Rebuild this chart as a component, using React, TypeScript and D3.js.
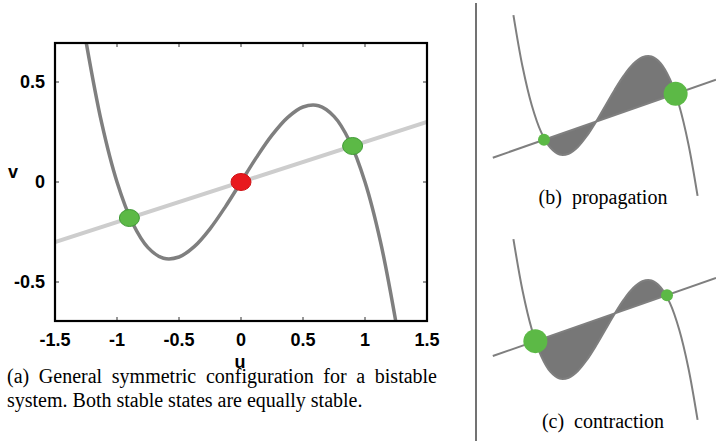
import React, { useEffect, useRef } from "react";
import * as d3 from "d3";

// nullcline samples (u, v)
const curveU = [-1.25, -1.125, -1, -0.875, -0.75, -0.625, -0.5, -0.375, -0.25, -0.125, 0, 0.125, 0.25, 0.375, 0.5, 0.625, 0.75, 0.875, 1, 1.125, 1.25];
const curveV = [0.703, 0.299, 0, -0.205, -0.328, -0.381, -0.375, -0.322, -0.234, -0.123, 0, 0.123, 0.234, 0.322, 0.375, 0.381, 0.328, 0.205, 0, -0.299, -0.703];

// straight line of the main plot
const lineU = [-1.5, 1.5];
const lineV = [-0.3, 0.3];

// fixed points of the main plot
const fixedU = [-0.9, 0, 0.9];
const fixedV = [-0.18, 0, 0.18];
const fixedStable = [true, false, true];

const xTicks = [-1.5, -1, -0.5, 0, 0.5, 1, 1.5];
const xTickLabels = ["-1.5", "-1", "-0.5", "0", "0.5", "1", "1.5"];
const yTicks = [-0.5, 0, 0.5];
const yTickLabels = ["-0.5", "0", "0.5"];

// side panels: shifted line and its crossings with the curve
const propLineV = [-0.4, 0.2];
const propCross = [-0.835, -0.125, 0.952];
const contrLineV = [-0.2, 0.4];
const contrCross = [-0.952, 0.125, 0.835];

const captionA1 = "(a)  General symmetric configuration for a bistable";
const captionA2 = "system. Both stable states are equally stable.";

const GREEN = "#5cb946";
const CURVE = "#7f7f7f";

const Panel = ({ dy, lv, cross, bigLeft, label }: any) => {
  const x = d3.scaleLinear().domain([-1.5, 1.5]).range([495, 716]);
  const y = d3.scaleLinear().domain([-0.8, 0.8]).range([208.4 + dy, 2.6 + dy]);
  const lineAt = d3.scaleLinear().domain(lineU).range(lv);
  const pts = curveU.map((u, i) => [u, curveV[i]]);
  const line = d3.line().x((d: any) => x(d[0])).y((d: any) => y(d[1])).curve(d3.curveCatmullRom.alpha(0.5));
  const uL = cross[0];
  const uR = cross[2];
  const areaPts = [[uL, lineAt(uL)], ...pts.filter((p) => p[0] > uL && p[0] < uR), [uR, lineAt(uR)]];
  const area = d3
    .area()
    .x((d: any) => x(d[0]))
    .y0((d: any) => y(lineAt(d[0])))
    .y1((d: any) => y(d[1]))
    .curve(d3.curveCatmullRom.alpha(0.5));
  return (
    <g>
      <path d={area(areaPts as any) || ""} fill="#777" />
      <line x1={x(-1.53)} y1={y(lineAt(-1.53))} x2={x(1.5)} y2={y(lineAt(1.5))} stroke={CURVE} strokeWidth={2} />
      <path d={line(pts as any) || ""} fill="none" stroke={CURVE} strokeWidth={2} />
      <circle cx={x(uL)} cy={y(lineAt(uL))} r={bigLeft ? 12 : 6} fill={GREEN} />
      <circle cx={x(uR)} cy={y(lineAt(uR))} r={bigLeft ? 6 : 12} fill={GREEN} />
      <text x={603} y={dy + 204} textAnchor="middle" fontFamily="Liberation Serif, Times New Roman, serif" fontSize={20} style={{ whiteSpace: "pre" }}>
        {label}
      </text>
    </g>
  );
};

const App = () => {
  const capRef = useRef<SVGTextElement>(null);

  const x = d3.scaleLinear().domain([-1.5, 1.5]).range([55, 427]);
  const y = d3.scaleLinear().domain([-0.7, 0.7]).range([322, 42]);
  const line = d3.line().x((d: any) => x(d[0])).y((d: any) => y(d[1])).curve(d3.curveCatmullRom.alpha(0.5));
  const pts = curveU.map((u, i) => [u, curveV[i]]);

  // justify the first caption line
  useEffect(() => {
    const el = capRef.current;
    if (!el) return;
    el.setAttribute("word-spacing", "0");
    const natural = el.getComputedTextLength();
    const gaps = captionA1.split(/ +/).length - 1;
    el.setAttribute("word-spacing", String((437 - 7 - natural) / gaps));
  }, []);

  const tickFont = { fontFamily: "Liberation Sans, Arial, sans-serif", fontWeight: 700, fontSize: 18 };

  return (
    <svg width={716} height={448} style={{ position: "absolute", left: 0, top: 0, background: "#fff" }}>
      <defs>
        <clipPath id="plot">
          <rect x={55} y={43} width={372} height={278} />
        </clipPath>
      </defs>

      <g clipPath="url(#plot)">
        <line x1={x(lineU[0])} y1={y(lineV[0])} x2={x(lineU[1])} y2={y(lineV[1])} stroke="#cdcdcd" strokeWidth={4} />
        <path d={line(pts as any) || ""} fill="none" stroke={CURVE} strokeWidth={3.5} />
      </g>
      {fixedU.map((u, i) => (
        <ellipse
          key={i}
          cx={x(u)}
          cy={y(fixedV[i])}
          rx={10}
          ry={8.5}
          fill={fixedStable[i] ? GREEN : "#e8191e"}
          stroke={fixedStable[i] ? "#3f9a35" : "#d01418"}
          strokeWidth={1}
        />
      ))}

      {/* ticks on all four sides, pointing in */}
      {xTicks.map((t) => (
        <g key={"x" + t} stroke="#333" strokeWidth={1}>
          <line x1={x(t)} x2={x(t)} y1={43} y2={47} />
          <line x1={x(t)} x2={x(t)} y1={321} y2={317} />
        </g>
      ))}
      {yTicks.map((t) => (
        <g key={"y" + t} stroke="#333" strokeWidth={1}>
          <line x1={55} x2={59} y1={y(t)} y2={y(t)} />
          <line x1={427} x2={423} y1={y(t)} y2={y(t)} />
        </g>
      ))}
      <rect x={55} y={43} width={372} height={278} fill="none" stroke="#000" strokeWidth={2.2} />

      {xTicks.map((t, i) => (
        <text key={"xl" + t} x={x(t)} y={345.5} textAnchor="middle" {...tickFont}>
          {xTickLabels[i]}
        </text>
      ))}
      {yTicks.map((t, i) => (
        <text key={"yl" + t} x={45} y={y(t)} dy="0.36em" textAnchor="end" {...tickFont}>
          {yTickLabels[i]}
        </text>
      ))}
      <text x={13} y={178} textAnchor="middle" {...tickFont}>v</text>
      <text x={240} y={368} textAnchor="middle" {...tickFont}>u</text>

      <text ref={capRef} x={7} y={383} fontFamily="Liberation Serif, Times New Roman, serif" fontSize={20}>
        {captionA1}
      </text>
      <text x={7} y={407} fontFamily="Liberation Serif, Times New Roman, serif" fontSize={20}>
        {captionA2}
      </text>

      <line x1={476} x2={476} y1={3} y2={441} stroke="#444" strokeWidth={1.5} />

      <Panel dy={0} lv={propLineV} cross={propCross} bigLeft={false} label={"(b)  propagation"} />
      <Panel dy={224} lv={contrLineV} cross={contrCross} bigLeft={true} label={"(c)  contraction"} />
    </svg>
  );
};

export default App;
